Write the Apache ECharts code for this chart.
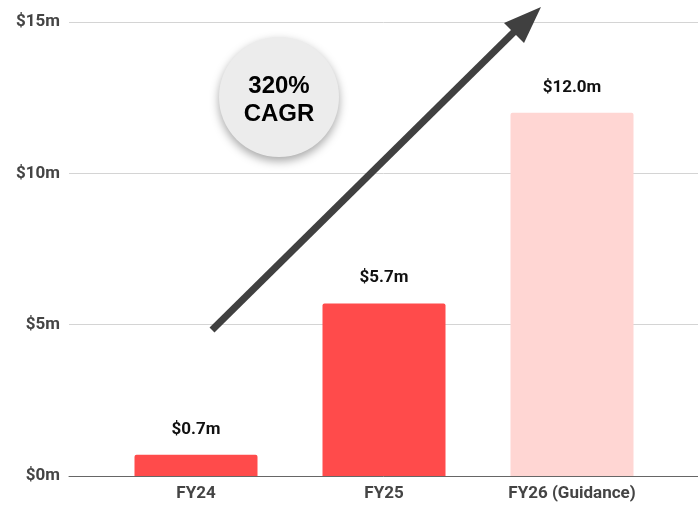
<!DOCTYPE html>
<html>
<head>
<meta charset="utf-8">
<script src="https://cdn.jsdelivr.net/npm/echarts@6/dist/echarts.min.js"></script>
<style>
  html, body { margin: 0; padding: 0; background: #fff; }
  #main { width: 698px; height: 505px; }
</style>
</head>
<body>
<div id="main"></div>
<script>
// data
var categories = ['FY24', 'FY25', 'FY26 (Guidance)'];
var revenue = [0.7, 5.7, 12.0];
var barColors = ['#ff4b4b', '#ff4b4b', '#ffd6d3'];
var yTicks = [0, 5, 10, 15];

var chart = echarts.init(document.getElementById('main'));

var option = {
  backgroundColor: '#fff',
  textStyle: { fontFamily: 'Roboto' },
  grid: [
    // gridlines + y labels
    { left: 69, right: 0, top: 22, bottom: 29 },
    // bars
    { left: 102, right: 32, top: 22, bottom: 29 }
  ],
  xAxis: [
    {
      gridIndex: 0, type: 'value', min: 0, max: 1,
      axisLine: { show: true, lineStyle: { color: '#666', width: 1 } },
      axisTick: { show: false }, axisLabel: { show: false }, splitLine: { show: false }
    },
    {
      gridIndex: 1, type: 'category', data: categories,
      axisLine: { show: false }, axisTick: { show: false },
      axisLabel: { color: '#444', fontSize: 17, fontWeight: 'bold', margin: 9 }
    }
  ],
  yAxis: [
    {
      gridIndex: 0, type: 'value', min: 0, max: 15, interval: 5,
      axisLine: { show: false }, axisTick: { show: false },
      axisLabel: {
        color: '#444', fontSize: 17, fontWeight: 'bold', margin: 9,
        formatter: function (v) { return '$' + v + 'm'; }
      },
      splitLine: { lineStyle: { color: '#d4d4d4', width: 1 } }
    },
    {
      gridIndex: 1, type: 'value', min: 0, max: 15, interval: 5,
      axisLine: { show: false }, axisTick: { show: false },
      axisLabel: { show: false }, splitLine: { show: false }
    }
  ],
  series: [
    {
      type: 'bar',
      xAxisIndex: 1, yAxisIndex: 1,
      barWidth: 123,
      data: revenue.map(function (v, i) {
        return { value: v, itemStyle: { color: barColors[i], borderRadius: [2, 2, 0, 0] } };
      }),
      label: {
        show: true, position: 'top', distance: 17,
        color: '#111', fontSize: 17, fontWeight: 'bold',
        formatter: function (p) { return '$' + p.value.toFixed(1) + 'm'; }
      }
    }
  ],
  graphic: [
    {
      type: 'circle', shape: { cx: 279, cy: 97, r: 60 },
      style: { fill: '#ececec', shadowBlur: 10, shadowOffsetY: 4, shadowColor: 'rgba(0,0,0,0.35)' },
      z: 10
    },
    {
      type: 'text', x: 279, y: 100, z: 11,
      style: {
        text: '320%\nCAGR', align: 'center', verticalAlign: 'middle',
        font: 'bold 24px "Liberation Sans"', lineHeight: 28, fill: '#000'
      }
    },
    {
      type: 'line', z: 12,
      shape: { x1: 212, y1: 330, x2: 517, y2: 29 },
      style: { stroke: '#404040', lineWidth: 7 }
    },
    {
      type: 'polygon', z: 12,
      shape: { points: [[541, 7], [504, 23], [524, 43]] },
      style: { fill: '#404040' }
    }
  ]
};

chart.setOption(option);
</script>
</body>
</html>
